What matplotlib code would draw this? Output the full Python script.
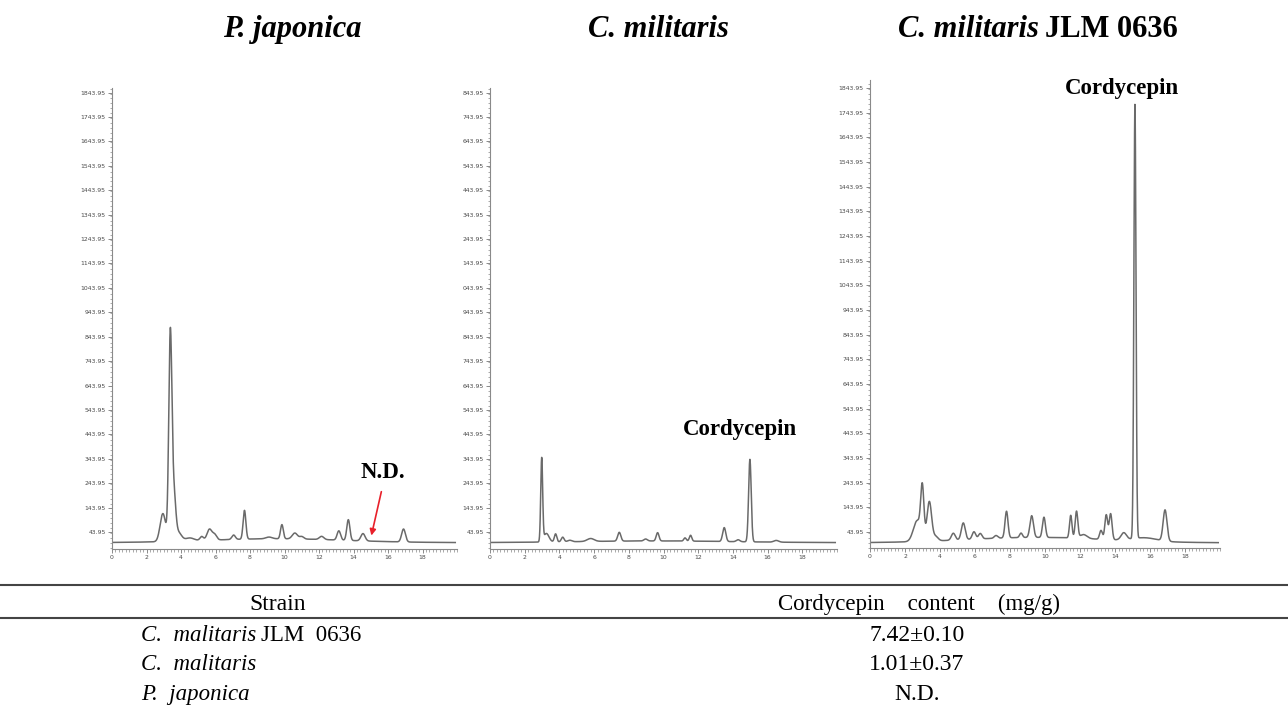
import numpy as np
import matplotlib
matplotlib.use("Agg")
import matplotlib.pyplot as plt
from matplotlib.ticker import MultipleLocator, FixedLocator

# ---------------- data ----------------
titles = ["P. japonica", "C. militaris", "C. militaris JLM 0636"]

# peak tables: retention time (min), height (mAU), width (sigma, min)
pj_time = [2.95, 3.38, 3.58, 3.85, 4.5, 5.2, 5.65, 5.95, 7.05, 7.68, 9.1, 9.85, 10.6, 11.0, 12.15, 13.15, 13.7, 14.55, 16.9, 9.5]
pj_height = [115, 835, 190, 35, 12, 16, 45, 22, 18, 118, 7, 58, 24, 10, 13, 38, 85, 30, 53, 16]
pj_width = [0.16, 0.09, 0.11, 0.18, 0.25, 0.1, 0.14, 0.12, 0.1, 0.08, 0.18, 0.08, 0.15, 0.12, 0.13, 0.1, 0.09, 0.12, 0.11, 4.0]

cm_time = [2.98, 3.25, 3.78, 4.19, 4.6, 5.8, 7.45, 8.97, 9.66, 11.24, 11.56, 13.5, 14.3, 14.98, 16.5, 9.5]
cm_height = [340, 35, 33, 19, 6, 12, 36, 8, 34, 13, 24, 57, 8, 338, 7, 7]
cm_width = [0.055, 0.15, 0.07, 0.08, 0.12, 0.2, 0.09, 0.1, 0.08, 0.07, 0.07, 0.09, 0.1, 0.075, 0.14, 4.5]

jlm_time = [2.7, 2.99, 3.39, 3.75, 4.76, 5.33, 5.94, 6.3, 7.2, 7.8, 8.63, 9.24, 9.94, 11.47, 11.8, 12.2,
            13.2, 13.5, 13.75, 14.5, 15.14, 15.7, 16.86, 9.5]
jlm_height = [85, 200, 160, 18, 28, 68, 30, 22, 11, 108, 18, 88, 82, 92, 108, 16,
              36, 100, 105, 28, 1760, 14, 126, 22]
jlm_width = [0.22, 0.09, 0.13, 0.14, 0.11, 0.11, 0.1, 0.1, 0.1, 0.085, 0.08, 0.1, 0.085, 0.07, 0.075, 0.2,
             0.08, 0.08, 0.08, 0.15, 0.06, 0.7, 0.11, 4.0]

ytick_values = [43.95 + 100 * k for k in range(19)]
ytick_labels_full = ["%.2f" % v for v in ytick_values]
ytick_labels_cut = [s[-6:] if len(s) > 6 else s for s in ytick_labels_full]  # cropped labels in middle panel
xtick_values = [0, 2, 4, 6, 8, 10, 12, 14, 16, 18]

table_header = ["Strain", "Cordycepin    content    (mg/g)"]
table_strain = ["C.  malitaris", "C.  malitaris", "P.  japonica"]
table_strain_suffix = ["JLM  0636", "", ""]
table_content = ["7.42\u00b10.10", "1.01\u00b10.37", "N.D."]

# ---------------- figure ----------------
W, H = 1288, 710
fig = plt.figure(figsize=(W / 100, H / 100), dpi=100)


def rect(left, right, top, bottom):
    return [left / W, 1 - bottom / H, (right - left) / W, (bottom - top) / H]


def trace(t, times, heights, widths):
    y = np.zeros_like(t)
    for c, h, w in zip(times, heights, widths):
        y += h * np.exp(-0.5 * ((t - c) / w) ** 2)
    return y


t = np.linspace(0, 19.9, 4000)
panels = [
    (rect(112, 457, 88, 549), (-26, 1863), pj_time, pj_height, pj_width, ytick_labels_full),
    (rect(490, 837, 88, 549), (-26, 1863), cm_time, cm_height, cm_width, ytick_labels_cut),
    (rect(870, 1220, 80, 548), (-21, 1876), jlm_time, jlm_height, jlm_width, ytick_labels_full),
]

axes = []
for pos, ylim, tt, hh, ww, ylabels in panels:
    ax = fig.add_axes(pos)
    ax.plot(t, trace(t, tt, hh, ww), color="#6a6a6a", lw=1.1)
    ax.set_xlim(0, 20)
    ax.set_ylim(*ylim)
    for s in ["top", "right"]:
        ax.spines[s].set_visible(False)
    for s in ["left", "bottom"]:
        ax.spines[s].set_color("#8a8a8a")
        ax.spines[s].set_linewidth(0.8)
    ax.xaxis.set_major_locator(FixedLocator(xtick_values))
    ax.xaxis.set_minor_locator(MultipleLocator(0.2))
    ax.yaxis.set_major_locator(FixedLocator(ytick_values))
    ax.yaxis.set_minor_locator(MultipleLocator(20))
    ax.set_xticklabels([str(v) for v in xtick_values])
    ax.set_yticklabels(ylabels)
    ax.tick_params(axis="both", which="major", length=3, width=0.6, color="#777777",
                   labelsize=4.4, labelcolor="#4a4a4a", pad=1.5)
    ax.tick_params(axis="both", which="minor", length=1.8, width=0.5, color="#888888")
    axes.append(ax)

# titles
serif = "Liberation Serif"
tsize = 22
fig.text(292 / W, 1 - 37 / H, titles[0], fontsize=tsize, fontweight="bold", fontstyle="italic",
         family=serif, ha="center", va="baseline")
fig.text(658 / W, 1 - 37 / H, titles[1], fontsize=tsize, fontweight="bold", fontstyle="italic",
         family=serif, ha="center", va="baseline")
fig.text(1039 / W, 1 - 37 / H, "C. militaris", fontsize=tsize, fontweight="bold", fontstyle="italic",
         family=serif, ha="right", va="baseline")
fig.text(1045 / W, 1 - 37 / H, "JLM 0636", fontsize=tsize, fontweight="bold",
         family=serif, ha="left", va="baseline")

# annotations
fig.text(740 / W, 1 - 435 / H, "Cordycepin", fontsize=16.5, fontweight="bold", family=serif,
         ha="center", va="baseline")
fig.text(1122 / W, 1 - 94 / H, "Cordycepin", fontsize=16.5, fontweight="bold", family=serif,
         ha="center", va="baseline")
fig.text(383 / W, 1 - 478 / H, "N.D.", fontsize=16.5, fontweight="bold", family=serif,
         ha="center", va="baseline")
axes[0].annotate("", xy=(15.0, 18), xytext=(15.65, 220),
                 arrowprops=dict(arrowstyle="-|>", color="#e8202a", lw=1.2, mutation_scale=9))

# table
fig.add_artist(plt.Line2D([0, 1], [1 - 585 / H] * 2, color="#444444", lw=1.5))
fig.add_artist(plt.Line2D([0, 1], [1 - 618 / H] * 2, color="#444444", lw=1.5))
fsize = 16.5
fig.text(278 / W, 1 - 610 / H, table_header[0], fontsize=17, family=serif, ha="center", va="baseline")
fig.text(919 / W, 1 - 610 / H, table_header[1], fontsize=16.5, family=serif, ha="center", va="baseline")
row_base = [641, 670, 700]
for i in range(3):
    txt = fig.text(141 / W, 1 - row_base[i] / H, table_strain[i], fontsize=fsize, family=serif,
                   fontstyle="italic", ha="left", va="baseline")
    if table_strain_suffix[i]:
        fig.canvas.draw()
        bb = txt.get_window_extent()
        fig.text((bb.x1 + 5) / W, 1 - row_base[i] / H, table_strain_suffix[i], fontsize=fsize,
                 family=serif, ha="left", va="baseline")
    fig.text(917 / W, 1 - row_base[i] / H, table_content[i], fontsize=17, family=serif,
             ha="center", va="baseline")

fig.savefig("out.png", dpi=100)
